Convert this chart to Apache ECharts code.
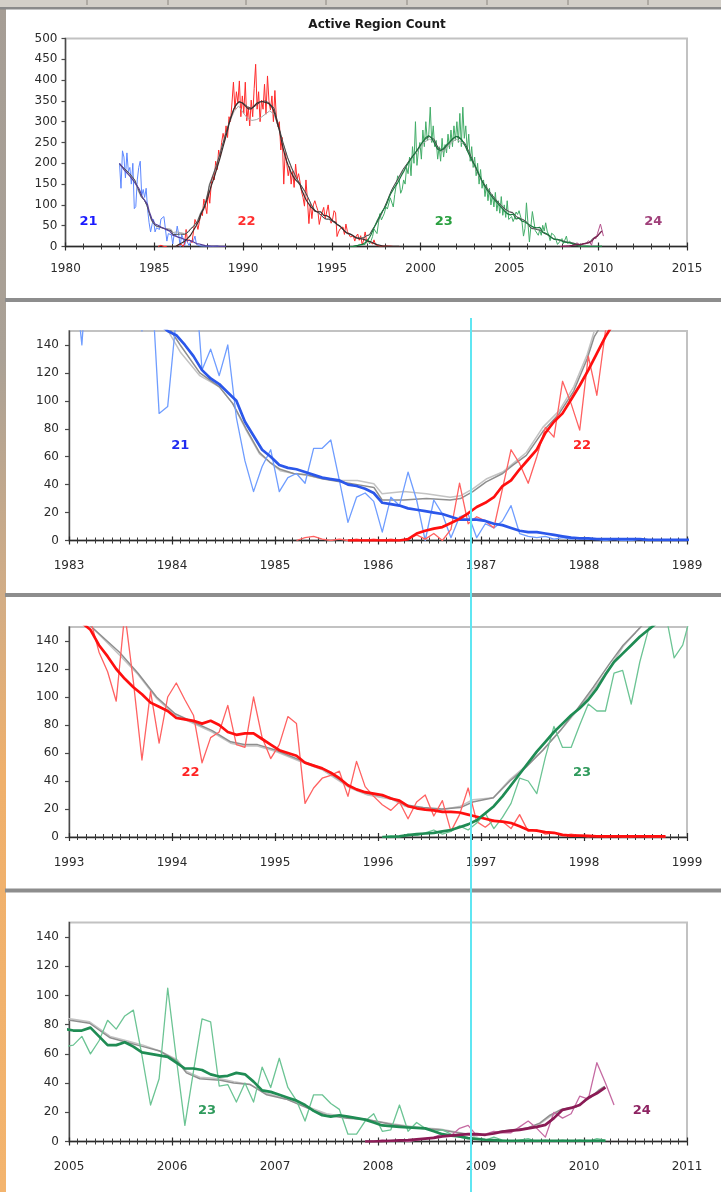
<!DOCTYPE html>
<html>
<head>
<meta charset="utf-8">
<script src="https://cdn.jsdelivr.net/npm/echarts@6/dist/echarts.min.js"></script>
<style>
html,body{margin:0;padding:0;background:#fff;}
#chart{width:721px;height:1192px;}
</style>
</head>
<body>
<div id="chart"></div>
<script>
// Monthly active-region counts per solar cycle (raw monthly value and smoothed value).
// Each list starts at the year/month given next to it; one value per month.

// Cycle 21, from 1983-01
const c21Raw = [
  200, 140, 230, 215, 165, 225, 180, 190, 150, 200, 91, 96,
  160, 190, 205, 122, 137, 118, 140, 88, 57, 35, 53, 65,
  35, 45, 48, 41, 66, 66, 72, 43, 13, 31, 34, 28,
  6, 31, 25, 49, 29, 0, 29, 19, 2, 17, 19, 2,
  12, 9, 14, 25, 5, 3, 2, 3, 1, 2, 1, 2,
  1, 1, 0, 1, 0, 0, 1, 0
];
const c21Smooth = [
  200, 195, 190, 185, 181, 177, 173, 169, 165, 160, 155, 150,
  147, 140, 132, 122, 116, 112, 106, 100, 85, 75, 65, 60,
  54, 52, 51, 49, 47, 45, 44, 43, 40, 39, 37, 34,
  27, 26, 25, 23, 22, 21, 20, 19, 17, 15, 15, 15,
  14, 12, 11, 9, 7, 6, 6, 5, 4, 3, 2, 1.5,
  1.5, 1, 1, 1, 1, 1, 1, 0.5, 0.5, 0.5, 0.5, 0.5,
  0.5
];

// Cycle 22, raw from 1985-03, smoothed from 1985-09
const c22Raw = [
  0, 2, 3, 1, 0, 1, 0, 1, 0, 1,
  0, 1, 0, 1, 4, 1, 5, 0, 8, 41, 12, 17,
  14, 9, 37, 65, 55, 41, 60, 81, 74, 114, 98, 79,
  132, 104, 150, 172, 160, 205, 185, 232, 215, 250, 272, 255,
  290, 262, 312, 300, 345, 395, 330, 372, 345, 398, 312, 362,
  320, 395, 302, 335, 290, 352, 312, 380, 438, 330, 372, 300,
  352, 330, 390, 318, 410, 350, 328, 362, 300, 375, 310, 288,
  300, 232, 262, 150, 230, 200, 170, 192, 150, 182, 142, 198,
  162, 175, 155, 132, 118, 97, 160, 111, 55, 104, 67, 100,
  110, 98, 87, 53, 71, 75, 94, 66, 64, 100, 71, 56,
  66, 86, 81, 24, 35, 42, 44, 47, 29, 54, 36, 29,
  23, 19, 25, 13, 25, 30, 15, 26, 4, 16, 35, 11,
  7, 12, 11, 6, 16, 4, 5, 2, 3, 1, 2, 1,
  0, 1, 0, 1, 0, 0, 1, 0, 0, 0
];
const c22Smooth = [
  0, 0, 0, 0,
  0, 0, 0, 1, 5, 7, 8.5, 9.6, 12.5, 15.5, 19.5, 24,
  27, 31, 39, 43, 51, 58, 65, 77, 85, 91, 101, 111,
  122, 134, 146, 156, 166, 178, 190, 202, 214, 227, 240, 253,
  266, 280, 294, 307, 318, 328, 336, 342, 346, 348, 347, 345,
  342, 338, 334, 331, 330, 331, 334, 338, 342, 345, 347, 348,
  348, 348, 347, 346, 345, 343, 340, 335, 328, 318, 305, 292,
  280, 262, 245, 230, 216, 205, 195, 186, 178, 171, 165, 160,
  156, 153, 148, 137, 129, 120, 113, 107, 102, 96, 93, 90,
  85, 84, 83, 81, 83, 80, 75, 73, 74, 74, 70, 66,
  62, 60, 58, 53, 51, 49, 46, 42, 37, 34, 32, 31,
  30, 27.5, 26, 22, 20.5, 19.5, 19, 18, 18, 17.5, 16, 14.5,
  13, 11.5, 11, 10, 7.6, 5, 4.5, 3.5, 3, 1.5, 1, 1,
  0.8, 0.5, 0.5, 0.5, 0.5, 0.5, 0.5, 0.5, 0.5, 0.5
];

// Cycle 23, from 1996-01
const c23Raw = [
  0, 1, 0, 2, 1, 3, 5, 2, 4, 8, 5, 10,
  17, 6, 14, 24, 42, 40, 31, 57, 79, 64, 64, 80,
  95, 90, 90, 117, 119, 95, 125, 148, 170, 160, 128, 137,
  160, 150, 190, 175, 215, 170, 240, 200, 300, 195, 230, 250,
  210, 280, 240, 300, 255, 270, 335, 250, 290, 240, 255, 210,
  240, 205, 260, 215, 245, 225, 270, 235, 280, 240, 290, 255,
  300, 250, 320, 240, 335, 260, 290, 230, 270, 205, 240, 190,
  215, 170, 200, 150, 185, 140, 160, 120, 150, 110, 140, 100,
  125, 95, 130, 85, 110, 80, 120, 75, 100, 70, 110, 65,
  66, 72, 60, 69, 83, 77, 86, 90, 59, 25, 43, 105,
  57, 11, 48, 84, 82, 38, 39, 27, 40, 27, 51, 37,
  57, 37, 28, 14, 32, 32, 26, 22, 5, 5, 14, 19,
  7, 8, 25, 7, 13, 9, 7, 8, 5, 3, 2, 2,
  1, 3, 1, 0, 1, 2, 0, 1, 0, 1, 0, 1,
  0, 2, 1
];
const c23Smooth = [
  0, 0, 0.5, 1.4, 2, 2.5, 3, 4, 5, 7, 9, 12,
  17, 22, 29, 37, 45, 53, 61, 68, 75, 81, 87, 92,
  98, 106, 116, 125, 131, 137, 143, 148, 153, 160, 167, 174,
  180, 187, 194, 200, 205, 211, 216, 221, 226, 231, 236, 241,
  247, 252, 257, 262, 265, 266, 264, 260, 254, 247, 240, 234,
  231, 230, 232, 236, 240, 244, 247, 251, 255, 259, 262, 264,
  265, 264, 262, 258, 252, 246, 239, 231, 223, 215, 208, 201,
  196, 189, 181, 173, 165, 157, 150, 144, 138, 133, 128, 123,
  118, 114, 110, 106, 102, 98, 94, 90, 86, 82, 79, 77,
  76, 76, 78, 72, 66, 66, 68, 65, 61, 60, 59, 58,
  54, 50, 50, 49, 46, 44.5, 45, 47, 46, 41, 35, 34,
  32, 30, 28, 25, 21, 18, 17, 18, 17, 16, 15, 13,
  11, 10.5, 10, 9.6, 9.3, 9, 7, 5, 4, 3.5, 2.3, 1.8,
  1.2, 1, 0.5, 0.5, 0.5, 0.5, 0.5, 0.5, 0.5, 0.5, 0.5, 0.5,
  0.5, 0.5, 0.5
];

// Cycle 24, from 2007-11
const c24Raw = [
  0, 0,
  1, 0, 1, 0, 1, 2, 3, 5, 4, 9, 11, 4,
  5, 7, 6, 6, 10, 14, 9, 3, 20, 16, 19, 31,
  29, 54, 40, 25
];
const c24Smooth = [
  0, 0,
  0.3, 0.5, 0.8, 1, 1.5, 2, 2.5, 3.5, 4, 4.6, 5, 5,
  4.6, 5.5, 6.8, 7.5, 8, 9, 10, 11.4, 16, 21.7, 23, 25,
  30, 33, 37
];

// Two smoothed totals of all cycles together, as [year, count]
const totalSmoothA = [
  [1983.04,198],[1983.3,188],[1983.6,176],[1983.9,160],[1984.08,140],[1984.27,120],[1984.46,110],
  [1984.59,98],[1984.72,80],[1984.85,63],[1984.95,56],[1985.05,51],[1985.18,48],[1985.31,47],
  [1985.47,44],[1985.63,42],[1985.8,40],[1985.96,38],[1986.04,29],[1986.25,29],[1986.47,30],
  [1986.7,29],[1986.8,30],[1986.92,35],[1987.05,42],[1987.21,48],[1987.31,54],[1987.44,61],
  [1987.6,78],[1987.76,91],[1987.9,107],[1988.03,130],[1988.1,146],[1988.3,170],[1988.5,195],
  [1988.75,230],[1989.0,268],[1989.25,303],[1989.5,332],[1989.75,348],[1990.0,345],[1990.25,336],
  [1990.5,332],[1990.75,340],[1991.0,348],[1991.25,350],[1991.5,344],[1991.75,332],[1992.0,290],
  [1992.25,250],[1992.5,215],[1992.75,188],[1993.0,165],[1993.22,150],[1993.49,132],[1993.67,117],
  [1993.85,100],[1994.03,88],[1994.21,82],[1994.39,76],[1994.57,68],[1994.7,66],[1994.83,66],
  [1995.01,62],[1995.24,55],[1995.46,49],[1995.73,36],[1995.9,31],[1996.13,28],[1996.26,23],
  [1996.44,21],[1996.62,20],[1996.8,21],[1996.92,25],[1997.12,28],[1997.28,40],[1997.44,50],
  [1997.6,62],[1997.77,76],[1997.93,91],[1998.09,107],[1998.25,124],[1998.38,137],[1998.5,146],
  [1998.55,150],[1998.75,165],[1999.0,185],[1999.25,200],[1999.5,215],[1999.75,228],[2000.0,245],
  [2000.25,258],[2000.5,265],[2000.75,258],[2001.0,236],[2001.25,232],[2001.5,243],[2001.75,255],
  [2002.0,265],[2002.25,258],[2002.5,248],[2002.75,225],[2003.0,200],[2003.25,175],[2003.5,155],
  [2003.75,140],[2004.0,125],[2004.25,112],[2004.5,100],[2004.75,90],[2005.01,83],[2005.2,81],
  [2005.4,71],[2005.56,68],[2005.72,65],[2005.88,62],[2006.05,55],[2006.14,47],[2006.27,43],
  [2006.47,42],[2006.6,40],[2006.76,39],[2006.92,32],[2007.11,29],[2007.31,23],[2007.5,18],
  [2007.7,16],[2007.89,15],[2008.15,11.4],[2008.41,9],[2008.6,8],[2008.8,5.7],[2008.93,4],
  [2009.06,5],[2009.18,6.8],[2009.31,8],[2009.44,9],[2009.57,12.6],[2009.67,18],[2009.77,21.7],
  [2009.93,24],[2010.06,30],[2010.15,35.5],[2010.2,37.7]
];
const totalSmoothB = [
  [1983.04,196],[1983.3,186],[1983.6,174],[1983.9,158],[1984.08,135],[1984.27,118],[1984.46,110],
  [1984.59,98],[1984.72,79],[1984.85,62],[1984.95,56],[1985.05,50],[1985.18,48],[1985.31,46.7],
  [1985.47,44],[1985.63,43],[1985.8,43],[1985.96,40.7],[1986.04,33.5],[1986.25,35],[1986.47,33.5],
  [1986.7,31],[1986.8,32],[1986.92,37],[1987.05,44],[1987.21,49],[1987.31,55],[1987.44,63],
  [1987.6,81],[1987.76,93],[1987.9,110],[1988.03,133],[1988.1,150],[1988.3,172],[1988.5,196],
  [1988.75,232],[1989.0,268],[1989.25,300],[1989.5,325],[1989.75,338],[1990.0,322],[1990.25,308],
  [1990.5,303],[1990.75,305],[1991.0,310],[1991.25,318],[1991.5,326],[1991.75,318],[1992.0,285],
  [1992.25,248],[1992.5,213],[1992.75,186],[1993.0,163],[1993.22,150],[1993.49,130],[1993.67,116],
  [1993.85,99],[1994.03,87],[1994.21,81],[1994.39,75],[1994.57,67],[1994.7,65],[1994.83,65],
  [1995.01,61],[1995.24,54],[1995.46,48],[1995.73,35],[1995.9,30],[1996.13,27],[1996.26,22],
  [1996.44,20],[1996.62,19.5],[1996.8,22],[1996.92,26.6],[1997.12,28],[1997.28,41],[1997.44,51],
  [1997.6,62],[1997.77,76],[1997.93,90],[1998.09,105],[1998.25,121],[1998.38,136],[1998.5,146],
  [1998.55,150],[1998.75,163],[1999.0,182],[1999.25,197],[1999.5,212],[1999.75,225],[2000.0,240],
  [2000.25,252],[2000.5,258],[2000.75,252],[2001.0,232],[2001.25,228],[2001.5,238],[2001.75,250],
  [2002.0,258],[2002.25,252],[2002.5,242],[2002.75,220],[2003.0,196],[2003.25,172],[2003.5,152],
  [2003.75,137],[2004.0,122],[2004.25,110],[2004.5,98],[2004.75,88],[2005.01,84],[2005.2,82],
  [2005.4,72],[2005.56,69],[2005.72,66],[2005.88,62],[2006.05,56],[2006.14,48],[2006.27,44],
  [2006.47,43],[2006.6,41],[2006.76,39],[2006.92,33],[2007.11,29],[2007.31,24],[2007.5,19],
  [2007.7,17],[2007.89,15],[2008.15,12],[2008.41,9.5],[2008.6,8.5],[2008.8,6],[2008.93,4.5],
  [2009.06,5],[2009.18,6.5],[2009.31,7.5],[2009.44,9],[2009.57,12],[2009.67,17],[2009.77,21],
  [2009.93,24],[2010.06,30],[2010.15,35],[2010.2,37]
];

// Axis tick values
const overviewYTicks = [0, 50, 100, 150, 200, 250, 300, 350, 400, 450, 500];
const detailYTicks = [0, 20, 40, 60, 80, 100, 120, 140];

// Cycle labels per panel: [text, year, count]
const overviewLabels = [['21', 1981.3, 60], ['22', 1990.2, 60], ['23', 2001.3, 60], ['24', 2013.1, 60]];
const detail1Labels = [['21', 1984.08, 68], ['22', 1987.98, 68]];
const detail2Labels = [['22', 1994.18, 46], ['23', 1997.98, 46]];
const detail3Labels = [['23', 2006.34, 21], ['24', 2010.56, 21]];

// ---------------------------------------------------------------
const FONT = 'DejaVu Sans';

function monthly(year, month, values) {
  return values.map((v, i) => [year + (month - 1 + i + 0.5) / 12, v]);
}

const cycles = [
  { id: 21, raw: monthly(1983, 1, c21Raw), smooth: monthly(1983, 1, c21Smooth) },
  { id: 22, raw: monthly(1985, 3, c22Raw), smooth: monthly(1985, 9, c22Smooth) },
  { id: 23, raw: monthly(1996, 1, c23Raw), smooth: monthly(1996, 1, c23Smooth) },
  { id: 24, raw: monthly(2007, 11, c24Raw), smooth: monthly(2007, 11, c24Smooth) }
];

const labelColors = { 21: '#1f2bf0', 22: '#ff2424', 23: '#2f9a5c', 24: '#8e2463' };

const overviewStyle = {
  raw: { 21: '#5d88ff', 22: '#ff2b2b', 23: '#42ad68', 24: '#b4508c' },
  smooth: { 21: '#55409a', 22: '#3c2c2c', 23: '#1c7a40', 24: '#7d1f50' },
  rawWidth: 1, smoothWidth: 1.2,
  grayA: '#4c4c4c', grayB: '#a9a9a9', grayWidth: 1,
  labelColors: { 21: '#1a1aff', 22: '#ff3030', 23: '#2aa040', 24: '#a0407a' }
};
const detailStyle = {
  raw: { 21: '#6f9dff', 22: '#ff6161', 23: '#6cc494', 24: '#c56aa2' },
  smooth: { 21: '#2b57ea', 22: '#ff0f0f', 23: '#1f8c54', 24: '#8a1b55' },
  rawWidth: 1.3, smoothWidth: 2.7,
  grayA: '#8e8e8e', grayB: '#c3c3c3', grayWidth: 1.5,
  labelColors: labelColors
};

const panels = [
  { left: 65.5, top: 38.5, width: 621.5, height: 208, xMin: 1980, xMax: 2015, xStep: 5, minorSplit: 5,
    yMax: 500, yTicks: overviewYTicks, xLabelMargin: 16, yLabelMargin: 8, style: overviewStyle, labels: overviewLabels, overview: true },
  { left: 69, top: 331, width: 618, height: 209.5, xMin: 1983, xMax: 1989, xStep: 1, minorSplit: 12,
    yMax: 150, yTicks: detailYTicks, xLabelMargin: 19.5, yLabelMargin: 10, style: detailStyle, labels: detail1Labels },
  { left: 69, top: 627, width: 618, height: 210, xMin: 1993, xMax: 1999, xStep: 1, minorSplit: 12,
    yMax: 150, yTicks: detailYTicks, xLabelMargin: 19.5, yLabelMargin: 10, style: detailStyle, labels: detail2Labels },
  { left: 69, top: 922.5, width: 618, height: 219, xMin: 2005, xMax: 2011, xStep: 1, minorSplit: 12,
    yMax: 150, yTicks: detailYTicks, xLabelMargin: 19.5, yLabelMargin: 10, style: detailStyle, labels: detail3Labels }
];

const grid = [], xAxis = [], yAxis = [], series = [];

panels.forEach((p, pi) => {
  const gMain = pi * 2, gOver = pi * 2 + 1;
  const rect = { left: p.left, top: p.top, width: p.width, height: p.height, containLabel: false };
  grid.push(Object.assign({ show: true, borderColor: '#c2c2c2', borderWidth: 2, backgroundColor: 'transparent' }, rect));
  grid.push(Object.assign({ show: false }, rect));

  // main x axis: labels, outward ticks
  xAxis.push({
    type: 'value', gridIndex: gMain, min: p.xMin, max: p.xMax, interval: p.xStep,
    axisLine: { show: true, lineStyle: { color: '#2a2a2a', width: 1.4 } },
    axisTick: { show: true, length: 4, lineStyle: { color: '#2a2a2a', width: 1.2 } },
    minorTick: { show: true, splitNumber: p.minorSplit, length: 3, lineStyle: { color: '#3a3a3a', width: 1 } },
    splitLine: { show: false },
    axisLabel: { show: true, showMinLabel: true, showMaxLabel: true, margin: p.xLabelMargin,
      color: '#2b2b2b', fontFamily: FONT, fontSize: 12, formatter: v => String(Math.round(v)) }
  });
  // inner half of the crossing ticks
  xAxis.push({
    type: 'value', gridIndex: gOver, min: p.xMin, max: p.xMax, interval: p.xStep,
    axisLine: { show: false },
    axisTick: { show: true, inside: true, length: 4, lineStyle: { color: '#2a2a2a', width: 1.2 } },
    minorTick: { show: true, splitNumber: p.minorSplit, length: 3, lineStyle: { color: '#3a3a3a', width: 1 } },
    splitLine: { show: false }, axisLabel: { show: false }
  });

  yAxis.push({
    type: 'value', gridIndex: gMain, min: 0, max: p.yMax, interval: p.overview ? 50 : 10,
    axisLine: { show: true, lineStyle: { color: '#4a4a4a', width: 1.4 } },
    axisTick: { show: true, length: 4, customValues: p.yTicks, lineStyle: { color: '#4a4a4a', width: 1.2 } },
    splitLine: { show: false },
    axisLabel: { show: true, customValues: p.yTicks, margin: p.yLabelMargin,
      color: '#2b2b2b', fontFamily: FONT, fontSize: 12 }
  });
  yAxis.push({ type: 'value', gridIndex: gOver, min: 0, max: p.yMax, show: false });

  const st = p.style;
  const line = (data, color, width, z) => ({
    type: 'line', data, xAxisIndex: gMain, yAxisIndex: gMain, symbol: 'none', showSymbol: false,
    silent: true, clip: true, animation: false, z,
    lineStyle: { color, width, join: 'round' }
  });

  if (p.overview) {
    cycles.forEach(c => series.push(line(c.raw, st.raw[c.id], st.rawWidth, 3)));
    series.push(line(totalSmoothB, st.grayB, st.grayWidth, 4));
    series.push(line(totalSmoothA, st.grayA, st.grayWidth, 5));
    cycles.forEach(c => series.push(line(c.smooth, st.smooth[c.id], st.smoothWidth, 6)));
  } else {
    series.push(line(totalSmoothB, st.grayB, st.grayWidth, 2));
    series.push(line(totalSmoothA, st.grayA, st.grayWidth, 3));
    cycles.forEach(c => series.push(line(c.raw, st.raw[c.id], st.rawWidth, 4)));
    cycles.forEach(c => series.push(line(c.smooth, st.smooth[c.id], st.smoothWidth, 5)));
  }
});

// page frame: left strip, top ruler, panel separators, marker line, titles
const rulerTicks = [87, 168, 246, 326, 407, 487, 568, 648];
const graphics = [
  { type: 'rect', z: -20, shape: { x: 0, y: 0, width: 6, height: 1192 },
    style: { fill: { type: 'linear', x: 0, y: 0, x2: 0, y2: 1, colorStops: [
      { offset: 0, color: '#a59d95' }, { offset: 0.3, color: '#aaa196' },
      { offset: 0.5, color: '#d2ad86' }, { offset: 0.65, color: '#efb06c' }, { offset: 1, color: '#f3b46e' } ] } } },
  { type: 'rect', z: -20, shape: { x: 0, y: 0, width: 721, height: 7 }, style: { fill: '#d3cfc8' } },
  { type: 'rect', z: -19, shape: { x: 0, y: 7, width: 721, height: 2.5 }, style: { fill: '#8a8a8a' } },
  { type: 'rect', z: -19, shape: { x: 5, y: 298, width: 716, height: 4 }, style: { fill: '#8d8d8d' } },
  { type: 'rect', z: -19, shape: { x: 5, y: 593, width: 716, height: 4 }, style: { fill: '#8d8d8d' } },
  { type: 'rect', z: -19, shape: { x: 5, y: 888.5, width: 716, height: 4 }, style: { fill: '#8d8d8d' } },
  { type: 'text', z: 50, x: 377, y: 25,
    style: { text: 'Active Region Count', font: 'bold 12px "DejaVu Sans"', fill: '#1a1a1a', align: 'center', verticalAlign: 'middle' } },
  { type: 'line', z: 100, shape: { x1: 471, y1: 318, x2: 471, y2: 1192 }, style: { stroke: '#5fe6f2', lineWidth: 2 } }
];
rulerTicks.forEach(x => graphics.push({ type: 'line', z: -18, shape: { x1: x, y1: 0, x2: x, y2: 5 }, style: { stroke: '#8a857e', lineWidth: 1 } }));

const chart = echarts.init(document.getElementById('chart'), null, { renderer: 'canvas' });
chart.setOption({
  backgroundColor: '#ffffff',
  animation: false,
  grid, xAxis, yAxis, series,
  graphic: { elements: graphics }
});

// cycle number labels placed in data coordinates of each panel
const labelEls = [];
panels.forEach((p, pi) => {
  p.labels.forEach(([txt, t, v]) => {
    const pt = chart.convertToPixel({ gridIndex: pi * 2 }, [t, v]);
    labelEls.push({ type: 'text', z: 60, x: pt[0], y: pt[1],
      style: { text: txt, font: 'bold 13px "DejaVu Sans"', fill: p.style.labelColors[Number(txt)], align: 'center', verticalAlign: 'middle' } });
  });
});
chart.setOption({ graphic: { elements: graphics.concat(labelEls) } });
</script>
</body>
</html>
